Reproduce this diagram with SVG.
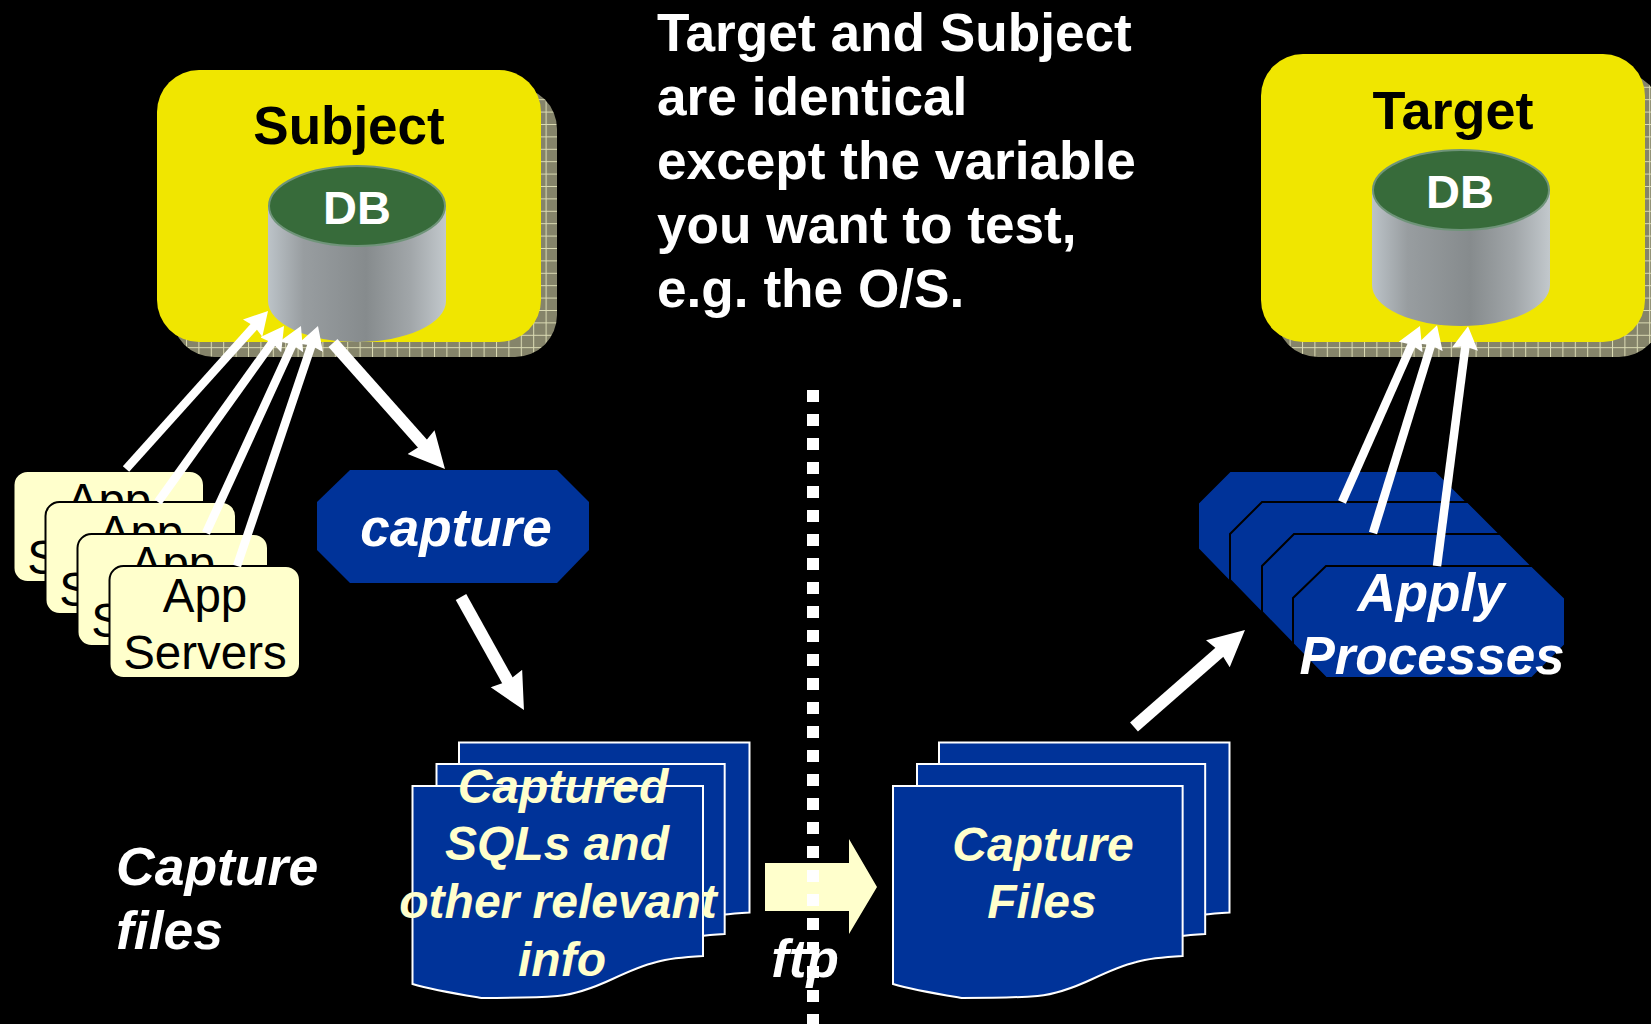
<svg xmlns="http://www.w3.org/2000/svg" width="1651" height="1024" viewBox="0 0 1651 1024">
<style>
text{font-family:"Liberation Sans",Arial,sans-serif;text-anchor:middle}
.b{font-weight:bold}
.bi{font-weight:bold;font-style:italic}
.w{fill:#fff}
.y{fill:#ffffcc}
.k{fill:#000}
.t{font-size:53px}
.db{font-size:47px}
.note{font-size:53.200px;text-anchor:start}
.panel{fill:#f0e600}
.shadow{fill:url(#grid)}
.top{fill:#376b3a;stroke:#6f9479;stroke-width:2}
.side{fill:url(#metal)}
.app{fill:#ffffcc;stroke:#000;stroke-width:2}
.apptxt{font-size:47.500px;fill:#000}
.proc{fill:#003399;stroke:#000;stroke-width:2}
.doc{fill:#003399;stroke:#fff;stroke-width:2}
.docb{font-size:48px}
.thin{stroke:#fff;stroke-width:8.500;fill:none;marker-end:url(#ah)}
.thick{stroke:#fff;stroke-width:12;fill:none;marker-end:url(#ahb)}
</style>
<defs>
<pattern id="grid" width="12.4" height="12.4" patternUnits="userSpaceOnUse">
<rect width="12.4" height="12.4" fill="#85846a"/>
<path d="M0 .5H12.4M.5 0V12.4" stroke="#dcdcb4" stroke-width="1"/>
</pattern>
<linearGradient id="metal" x1="0" x2="1" y1="0" y2="0">
<stop offset="0" stop-color="#bcc3c8"/>
<stop offset=".2" stop-color="#989da0"/>
<stop offset=".55" stop-color="#868b8d"/>
<stop offset=".8" stop-color="#a1a6a9"/>
<stop offset="1" stop-color="#c2c8cc"/>
</linearGradient>
<marker id="ah" markerUnits="userSpaceOnUse" markerWidth="26" markerHeight="28" viewBox="0 -14 26 28" refX="8" refY="0" orient="auto"><path d="M23 0L0 -13L2.500 0L0 13Z" fill="#fff"/></marker>
<marker id="ahb" markerUnits="userSpaceOnUse" markerWidth="38" markerHeight="38" viewBox="0 -19 38 38" refX="10" refY="0" orient="auto"><path d="M36 0L0 -18L3 0L0 18Z" fill="#fff"/></marker>
<path id="docshape" d="M0 0H290.500V170C272 171 258 172 244 176C228 180 215 186 200 193C185 200 165 208 145 210C120 212 95 212 69 212C45 208 20 204 0 198Z"/>
</defs>
<rect width="1651" height="1024" fill="#000"/>

<g id="subject">
<rect class="shadow" x="172" y="87" width="385" height="270" rx="42"/>
<rect class="panel" x="157" y="70" width="384" height="272" rx="42"/>
<text class="b k t" x="349" y="144">Subject</text>
</g>
<g id="subject-db">
<path class="side" d="M268 206V301A89 41 0 0 0 446 301V206Z"/>
<ellipse class="top" cx="357" cy="206" rx="88" ry="40"/>
<text class="b w db" x="357" y="224">DB</text>
</g>

<g id="target">
<rect class="shadow" x="1276" y="72" width="385" height="285" rx="42"/>
<rect class="panel" x="1261" y="54" width="384" height="288" rx="42"/>
<text class="b k t" style="font-size:54px" x="1453" y="129">Target</text>
</g>
<g id="target-db">
<path class="side" d="M1372 190V285A89 41 0 0 0 1550 285V190Z"/>
<ellipse class="top" cx="1461" cy="190" rx="88" ry="40"/>
<text class="b w db" x="1460" y="208">DB</text>
</g>

<g id="note">
<text class="b w note" x="657" y="51">Target and Subject</text>
<text class="b w note" x="657" y="115">are identical</text>
<text class="b w note" x="657" y="179">except the variable</text>
<text class="b w note" x="657" y="243">you want to test,</text>
<text class="b w note" x="657" y="307">e.g. the O/S.</text>
</g>

<g id="app-servers-1">
<rect class="app" x="13.500" y="471" width="190.500" height="111" rx="14"/>
<text class="apptxt" x="109" y="517">App</text><text class="apptxt" x="109" y="574">Servers</text>
</g>
<g id="app-servers-2">
<rect class="app" x="45.500" y="502" width="190.500" height="112" rx="14"/>
<text class="apptxt" x="141" y="549">App</text><text class="apptxt" x="141" y="606">Servers</text>
</g>
<g id="app-servers-3">
<rect class="app" x="77.500" y="534" width="190.500" height="112" rx="14"/>
<text class="apptxt" x="173" y="580">App</text><text class="apptxt" x="173" y="637">Servers</text>
</g>
<g id="app-servers-4">
<rect class="app" x="109.500" y="566" width="190.500" height="112" rx="14"/>
<text class="apptxt" x="205" y="612">App</text><text class="apptxt" x="205" y="669">Servers</text>
</g>

<g id="capture">
<path d="M350 470H557L589 502V550L557 583H350L317 550V502Z" fill="#003399"/>
<text class="bi w t" x="456" y="546">capture</text>
</g>

<g id="apply-1"><path class="proc" d="M1230 471H1436L1468 503V550L1436 582H1230L1198 549V503Z"/></g>
<g id="apply-2"><path class="proc" d="M1262 502H1468L1500 534V581L1468 613H1262L1230 580V534Z"/></g>
<g id="apply-3"><path class="proc" d="M1294 534H1500L1532 566V613L1500 645H1294L1262 612V566Z"/></g>
<g id="apply-4">
<path class="proc" d="M1326 566H1532L1565 598V645L1532 678H1326L1293 644V598Z"/>
<text class="bi w t" x="1431" y="611">Apply</text>
<text class="bi w t" x="1432" y="674">Processes</text>
</g>

<g id="captured-docs">
<use href="#docshape" class="doc" x="459" y="742.500"/>
<use href="#docshape" class="doc" transform="translate(436.500 764) scale(.992 1)"/>
<use href="#docshape" class="doc" x="412.500" y="786"/>
<text class="bi y docb" x="563" y="803">Captured</text>
<text class="bi y docb" x="557" y="860">SQLs and</text>
<text class="bi y docb" x="558" y="918">other relevant</text>
<text class="bi y docb" x="562" y="976">info</text>
</g>

<g id="capture-docs">
<use href="#docshape" class="doc" x="939" y="742.500"/>
<use href="#docshape" class="doc" transform="translate(917 764) scale(.992 1)"/>
<use href="#docshape" class="doc" transform="translate(893 786) scale(.997 1)"/>
<text class="bi y docb" x="1043" y="861">Capture</text>
<text class="bi y docb" x="1042" y="918">Files</text>
</g>

<g id="capture-files-label">
<text class="bi w" style="font-size:53.500px;text-anchor:start" x="116" y="885">Capture</text>
<text class="bi w" style="font-size:53.500px;text-anchor:start" x="116" y="949">files</text>
</g>

<g id="ftp-arrow">
<path d="M765 863H849V839L877 887L849 934V911H765Z" fill="#ffffcc"/>
</g>

<g id="connectors">
<line class="thin" x1="126" y1="469" x2="258" y2="322.200"/>
<line class="thin" x1="158" y1="502" x2="275.300" y2="338.200"/>
<line class="thin" x1="206" y1="533" x2="294.700" y2="339.600"/>
<line class="thin" x1="237" y1="566" x2="313.200" y2="340.200"/>
<line class="thin" x1="1342" y1="502" x2="1413.900" y2="339.700"/>
<line class="thin" x1="1373" y1="533" x2="1432.600" y2="339.700"/>
<line class="thin" x1="1437" y1="566" x2="1466.100" y2="341.100"/>
<line class="thick" x1="333" y1="343" x2="427.700" y2="449.600"/>
<line class="thick" x1="461" y1="597" x2="511.300" y2="687.300"/>
<line class="thick" x1="1134" y1="727" x2="1225.400" y2="647.100"/>
<line x1="813" y1="390" x2="813" y2="1024" stroke="#fff" stroke-width="12" stroke-dasharray="12 12"/>
</g>

<g id="ftp-label">
<text class="bi w t" x="805" y="977">ftp</text>
</g>
</svg>
